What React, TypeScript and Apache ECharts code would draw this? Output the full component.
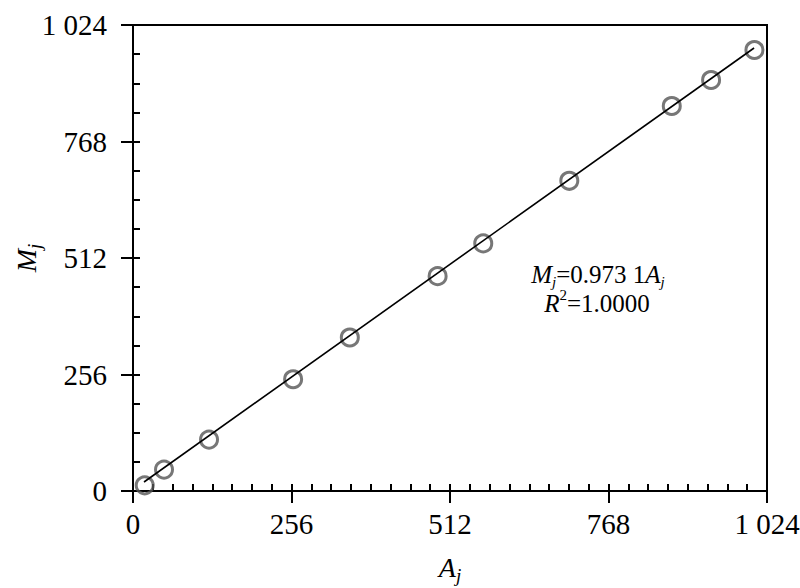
import React, { useEffect, useRef } from "react";
import * as echarts from "echarts";

// Data
const aValues = [18.9, 50.1, 122.8, 258.6, 350.2, 492.0, 565.7, 704.7, 870.2, 933.7, 1003.7];
const mValues = [12.5, 47.1, 113.0, 245.6, 337.3, 472.1, 544.0, 681.7, 846.0, 903.1, 969.1];
const fitA = [17.8, 1003.1];
const fitM = [19.8, 973.5];
const tickLabels = ["0", "256", "512", "768", "1 024"];
const axisMin = 0;
const axisMax = 1024;
const majorStep = 256;
const xMinorStep = 32;
const yMinorStep = 64;

const FONT = "Liberation Serif";

export default function App() {
  const ref = useRef<HTMLDivElement>(null);

  useEffect(() => {
    if (!ref.current) return;
    const chart = echarts.init(ref.current, undefined, { renderer: "svg" });

    const labelFmt = (v: number) => tickLabels[Math.round(v / majorStep)] ?? String(v);

    const nameRich = {
      i: { fontFamily: FONT, fontStyle: "italic", fontSize: 28, color: "#000", lineHeight: 28, verticalAlign: "top" },
      sub: { fontFamily: FONT, fontStyle: "italic", fontSize: 19, color: "#000", lineHeight: 19, verticalAlign: "top", padding: [13, 0, 0, 0] },
    };

    const majorAxisBase = {
      type: "value",
      min: axisMin,
      max: axisMax,
      interval: majorStep,
      splitLine: { show: false },
      axisLine: { show: true, lineStyle: { color: "#000", width: 2 } },
      axisTick: { show: true, inside: false, length: 12, lineStyle: { color: "#000", width: 2 } },
      axisLabel: { show: true, formatter: labelFmt, fontFamily: FONT, fontSize: 29, color: "#000" },
    };

    const minorAxis = (step: number) => ({
      type: "value",
      min: axisMin,
      max: axisMax,
      interval: step,
      splitLine: { show: false },
      axisLine: { show: false },
      axisTick: { show: true, inside: true, length: 7, lineStyle: { color: "#000", width: 2 } },
      axisLabel: { show: false },
    });

    const annSize = 25;
    const annRich1 = {
      i: { fontFamily: FONT, fontStyle: "italic", fontSize: annSize, color: "#000", lineHeight: 22, verticalAlign: "top" },
      n: { fontFamily: FONT, fontSize: annSize, color: "#000", lineHeight: 22, verticalAlign: "top" },
      sub: { fontFamily: FONT, fontStyle: "italic", fontSize: 15, color: "#000", lineHeight: 6, verticalAlign: "top", padding: [12, 0, 0, 0] },
    };
    const annRich2 = {
      i: { fontFamily: FONT, fontStyle: "italic", fontSize: annSize, color: "#000", lineHeight: 16, verticalAlign: "top", padding: [4, 0, 0, 0] },
      n: { fontFamily: FONT, fontSize: annSize, color: "#000", lineHeight: 16, verticalAlign: "top", padding: [4, 0, 0, 0] },
      sup: { fontFamily: FONT, fontSize: 15, color: "#000", lineHeight: 10, verticalAlign: "top" },
    };

    const option: any = {
      animation: false,
      backgroundColor: "#fff",
      textStyle: { fontFamily: FONT },
      grid: {
        left: 133,
        right: 33,
        top: 25,
        bottom: 97,
        containLabel: false,
        outerBoundsMode: "none",
        show: true,
        borderColor: "#000",
        borderWidth: 2,
        backgroundColor: "transparent",
      },
      xAxis: [
        {
          ...majorAxisBase,
          position: "bottom",
          axisLabel: { ...majorAxisBase.axisLabel, margin: 18 },
          name: "{i|A}{sub|j}",
          nameLocation: "middle",
          nameGap: 62,
          nameMoveOverlap: false,
          nameTextStyle: { fontFamily: FONT, fontSize: 28, rich: nameRich },
        },
        { ...minorAxis(xMinorStep), position: "bottom" },
      ],
      yAxis: [
        {
          ...majorAxisBase,
          position: "left",
          axisLabel: { ...majorAxisBase.axisLabel, margin: 26 },
          name: "{i|M}{sub|j}",
          nameLocation: "middle",
          nameRotate: 90,
          nameGap: 93,
          nameMoveOverlap: false,
          nameTextStyle: { fontFamily: FONT, fontSize: 28, rich: nameRich },
        },
        { ...minorAxis(yMinorStep), position: "left" },
      ],
      graphic: [
        {
          type: "text",
          x: 598,
          y: 262,
          style: {
            text: "{i|M}{sub|j}{n|=0.973 1}{i|A}{sub|j}",
            fontFamily: FONT,
            fontSize: annSize,
            align: "center",
            verticalAlign: "top",
            rich: annRich1,
          },
        },
        {
          type: "text",
          x: 597,
          y: 287,
          style: {
            text: "{i|R}{sup|2}{n|=1.0000}",
            fontFamily: FONT,
            fontSize: annSize,
            align: "center",
            verticalAlign: "top",
            rich: annRich2,
          },
        },
      ],
      series: [
        {
          type: "scatter",
          xAxisIndex: 0,
          yAxisIndex: 0,
          data: aValues.map((a, i) => [a, mValues[i]]),
          symbol: "circle",
          symbolSize: 17,
          itemStyle: { color: "rgba(0,0,0,0)", borderColor: "#555", borderWidth: 3 },
          z: 2,
        },
        {
          type: "line",
          xAxisIndex: 0,
          yAxisIndex: 0,
          data: fitA.map((a, i) => [a, fitM[i]]),
          symbol: "none",
          lineStyle: { color: "#000", width: 1.6 },
          z: 3,
        },
      ],
    };

    chart.setOption(option);
    return () => chart.dispose();
  }, []);

  return (
    <div
      ref={ref}
      style={{ position: "fixed", left: 0, top: 0, width: 800, height: 588, background: "#fff" }}
    />
  );
}
